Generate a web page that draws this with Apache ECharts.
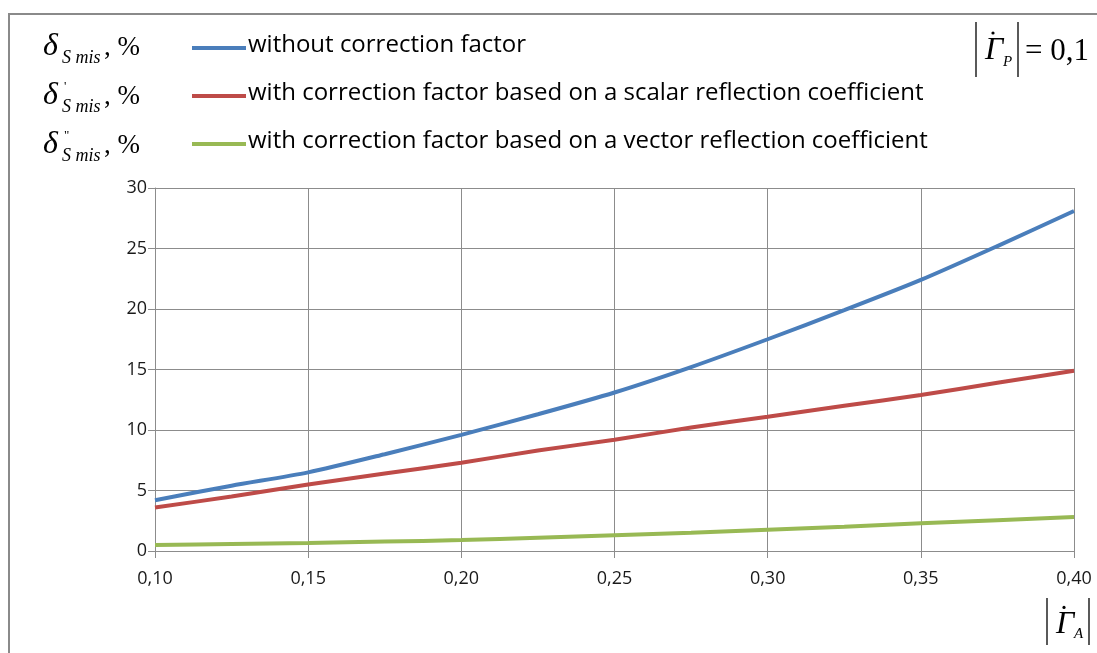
<!DOCTYPE html>
<html><head><meta charset="utf-8">
<script src="https://cdn.jsdelivr.net/npm/echarts@6/dist/echarts.min.js"></script>
<style>html,body{margin:0;padding:0;background:#fff}#c{width:1097px;height:653px}</style>
</head><body><div id="c"></div>
<script>
const gammaA = [0.10, 0.125, 0.15, 0.175, 0.20, 0.225, 0.25, 0.275, 0.30, 0.325, 0.35, 0.375, 0.40];
const withoutCorrection = [4.2, 5.4, 6.5, 8.0, 9.6, 11.3, 13.1, 15.2, 17.5, 19.9, 22.4, 25.2, 28.1];
const scalarCorrection  = [3.6, 4.5, 5.5, 6.4, 7.3, 8.3, 9.2, 10.2, 11.1, 12.0, 12.9, 13.9, 14.9];
const vectorCorrection  = [0.5, 0.58, 0.67, 0.78, 0.9, 1.1, 1.3, 1.5, 1.75, 2.0, 2.3, 2.55, 2.8];
const seriesNames = ['without correction factor',
  'with correction factor based on a scalar reflection coefficient',
  'with correction factor based on a vector reflection coefficient'];
const colors = ['#4A7EBB', '#BE4B48', '#98B954'];
const xTicks = {min: 0.10, max: 0.40, interval: 0.05};
const yTicks = {min: 0, max: 30, interval: 5};

const pair = (xs, ys) => xs.map((x, i) => [x, ys[i]]);
const chart = echarts.init(document.getElementById('c'), null, {renderer: 'canvas'});

const serif = '"Liberation Serif", "DejaVu Serif", serif';
const sans = '"Open Sans", Lato, sans-serif';
function t(left, top, text, font) {
  return {type: 'text', left: left, top: top, style: {text: text, font: font, fill: '#000'}};
}
function deltaLabel(y, prime) {
  const els = [
    t(43, y - 6, 'δ', 'italic 32px ' + serif),
    t(62, y + 12, 'S mis', 'italic 18px ' + serif),
    t(104, y - 3, ', %', '27px ' + serif)
  ];
  if (prime) els.push(t(64, y - 6, prime, '13px ' + serif));
  return els;
}
function gammaAbs(x, y, sub, h) {
  return [
    {type: 'line', shape: {x1: x, y1: y, x2: x, y2: y + h}, style: {stroke: '#000', lineWidth: 1.3}},
    t(x + 9, y + h * 0.22, 'Γ', 'italic 32px ' + serif),
    {type: 'circle', shape: {cx: x + 17, cy: y + h * 0.2, r: 1.6}, style: {fill: '#000'}},
    t(x + 27, y + h * 0.6, sub, 'italic 15px ' + serif),
    {type: 'line', shape: {x1: x + 42, y1: y, x2: x + 42, y2: y + h}, style: {stroke: '#000', lineWidth: 1.3}}
  ];
}

const legendEls = [];
seriesNames.forEach((n, i) => {
  const y = 48 + i * 48;
  legendEls.push({type: 'line', shape: {x1: 192, y1: y, x2: 246, y2: y}, style: {stroke: colors[i], lineWidth: 4}});
  legendEls.push(t(248, y - 15, n, '24px ' + sans));
});

chart.setOption({
  animation: false,
  backgroundColor: '#fff',
  grid: {left: 155, right: 23, top: 188, bottom: 102, containLabel: false},
  xAxis: {
    type: 'value', min: xTicks.min, max: xTicks.max, interval: xTicks.interval,
    axisLine: {show: true, lineStyle: {color: '#8c8c8c', width: 1}},
    axisTick: {show: true, length: 7, lineStyle: {color: '#8c8c8c'}},
    splitLine: {show: true, lineStyle: {color: '#8c8c8c', width: 1}},
    axisLabel: {formatter: v => v.toFixed(2).replace('.', ','), fontSize: 18, color: '#1a1a1a', margin: 19,
      fontFamily: sans}
  },
  yAxis: {
    type: 'value', min: yTicks.min, max: yTicks.max, interval: yTicks.interval,
    axisLine: {show: true, lineStyle: {color: '#8c8c8c', width: 1}},
    axisTick: {show: true, length: 7, lineStyle: {color: '#8c8c8c'}},
    splitLine: {show: true, lineStyle: {color: '#8c8c8c', width: 1}},
    axisLabel: {fontSize: 18, color: '#1a1a1a', margin: 8, fontFamily: sans}
  },
  series: [withoutCorrection, scalarCorrection, vectorCorrection].map((d, i) => ({
    name: seriesNames[i], type: 'line', data: pair(gammaA, d), smooth: 0.25, showSymbol: false,
    lineStyle: {color: colors[i], width: 4}, z: 3 + (2 - i)
  })),
  graphic: [
    {type: 'rect', shape: {x: 9, y: 14, width: 1200, height: 800}, style: {fill: 'none', stroke: '#8a8a8a', lineWidth: 2}, z: 100},
    ...deltaLabel(37),
    ...deltaLabel(86, "'"),
    ...deltaLabel(135, '"'),
    ...legendEls,
    ...gammaAbs(976, 22, 'P', 55),
    t(1025, 36, '= 0,1', '31px ' + serif),
    ...gammaAbs(1047, 598, 'A', 47)
  ]
});
</script></body></html>
